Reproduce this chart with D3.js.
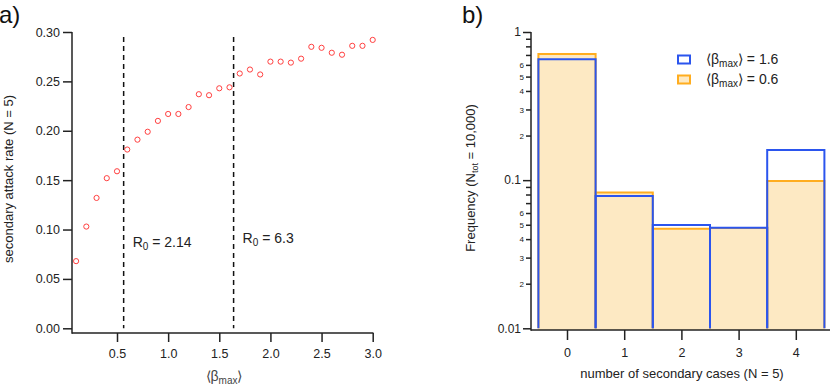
<!DOCTYPE html>
<html>
<head>
<meta charset="utf-8">
<script src="https://cdn.jsdelivr.net/npm/d3@7"></script>
<style>
  body { margin: 0; background: #fff; }
  svg { font-family: "Liberation Sans", Arial, sans-serif; }
  .axis path { display: none; }
  .axis line { stroke: #222; stroke-width: 1.5; }
  .axis text { fill: #222; }
</style>
</head>
<body>
<div id="chart"></div>
<script>
// panel a: secondary attack rate vs <beta_max>
const betaMax = [0.1, 0.2, 0.3, 0.4, 0.5, 0.6, 0.7, 0.8, 0.9, 1.0,
                 1.1, 1.2, 1.3, 1.4, 1.5, 1.6, 1.7, 1.8, 1.9, 2.0,
                 2.1, 2.2, 2.3, 2.4, 2.5, 2.6, 2.7, 2.8, 2.9, 3.0]
const attackRate = [0.068, 0.103, 0.132, 0.152, 0.159, 0.181, 0.191, 0.199, 0.210, 0.217,
                    0.217, 0.224, 0.237, 0.236, 0.243, 0.244, 0.258, 0.262, 0.257, 0.270,
                    0.270, 0.269, 0.273, 0.285, 0.284, 0.279, 0.277, 0.286, 0.286, 0.292]
const r0Lines = [0.565, 1.64]
const r0Labels = ["2.14", "6.3"]
const aXTicks = [0.5, 1.0, 1.5, 2.0, 2.5, 3.0]
const aYTicks = [0.00, 0.05, 0.10, 0.15, 0.20, 0.25, 0.30]

// panel b: distribution of secondary cases
const cases = [0, 1, 2, 3, 4]
const freqHigh = [0.654, 0.0783, 0.0499, 0.0477, 0.1595]  // <beta_max> = 1.6
const freqLow = [0.710, 0.0826, 0.0469, 0.0475, 0.0985]   // <beta_max> = 0.6
const bMajorTicks = [0.01, 0.1, 1]
const bMinorTicks = [0.02, 0.03, 0.04, 0.05, 0.06, 0.07, 0.08, 0.09,
                     0.2, 0.3, 0.4, 0.5, 0.6, 0.7, 0.8, 0.9]
const bMinorLabeled = [2, 3, 4, 5, 6]

const width = 830, height = 386
const svg = d3.select("#chart").append("svg")
  .attr("width", width).attr("height", height)

const axisColor = "#222"

// ---------- panel a ----------
const xA = d3.scaleLinear().domain([0.06, 3.0]).range([72, 372.7])
const yA = d3.scaleLinear().domain([0, 0.30]).range([328.3, 32])
const aAxisY = 333

svg.append("g").attr("class", "axis")
  .attr("transform", `translate(0,${aAxisY})`)
  .call(d3.axisBottom(xA).tickValues(aXTicks).tickFormat(d3.format(".1f")).tickSize(9).tickPadding(7))
  .selectAll("text").style("font-size", "12.5px")

svg.append("g").attr("class", "axis")
  .attr("transform", `translate(72,0)`)
  .call(d3.axisLeft(yA).tickValues(aYTicks).tickFormat(d3.format(".2f")).tickSize(9).tickPadding(3))
  .selectAll("text").style("font-size", "12.5px")

svg.append("line").attr("x1", 72).attr("x2", 72).attr("y1", yA(0.30)).attr("y2", aAxisY + 0.75)
  .attr("stroke", axisColor).attr("stroke-width", 1.5)
svg.append("line").attr("x1", 72).attr("x2", xA(3.0) + 0.75).attr("y1", aAxisY).attr("y2", aAxisY)
  .attr("stroke", axisColor).attr("stroke-width", 1.5)

svg.selectAll(".r0line").data(r0Lines).enter().append("line")
  .attr("x1", d => xA(d)).attr("x2", d => xA(d))
  .attr("y1", 37).attr("y2", yA(0))
  .attr("stroke", "#111").attr("stroke-width", 1.5)
  .attr("stroke-dasharray", "5,4")

const r0Text = svg.selectAll(".r0text").data(r0Lines).enter().append("text")
  .attr("x", d => xA(d) + 9)
  .attr("y", (d, i) => i === 0 ? 246.5 : 242.5)
  .style("font-size", "14px").attr("fill", "#222")
r0Text.append("tspan").text("R")
r0Text.append("tspan").attr("dy", 3).style("font-size", "10px").text("0")
r0Text.append("tspan").attr("dy", -3).text((d, i) => " = " + r0Labels[i])

svg.selectAll(".pt").data(betaMax).enter().append("circle")
  .attr("cx", d => xA(d))
  .attr("cy", (d, i) => yA(attackRate[i]))
  .attr("r", 2.6)
  .attr("fill", "none").attr("stroke", "#ff4040").attr("stroke-width", 1)

svg.append("text")
  .attr("transform", "translate(13,179) rotate(-90)")
  .attr("text-anchor", "middle").style("font-size", "13px").attr("fill", "#222")
  .text("secondary attack rate (N = 5)")

const xLabA = svg.append("text").attr("x", 224).attr("y", 381)
  .attr("text-anchor", "middle").style("font-size", "14px").attr("fill", "#444")
xLabA.append("tspan").text("\u27E8\u03B2")
xLabA.append("tspan").attr("dy", 3).style("font-size", "10px").text("max")
xLabA.append("tspan").attr("dy", -3).text("\u27E9")

svg.append("text").attr("x", -1).attr("y", 23).style("font-size", "24px").attr("fill", "#111").text("a)")

// ---------- panel b ----------
const xB = d3.scaleLinear().domain([-0.5, 4.5]).range([538.4, 824.4])
const yB = d3.scaleLog().domain([0.01, 1]).range([328.3, 32])
const bAxisX = 531, bAxisY = 330

// open-bottom bar outline: left side, top, right side
const barPath = (i, v) => {
  const p = d3.path()
  p.moveTo(xB(i - 0.5), yB(0.01))
  p.lineTo(xB(i - 0.5), yB(v))
  p.lineTo(xB(i + 0.5), yB(v))
  p.lineTo(xB(i + 0.5), yB(0.01))
  return p.toString()
}

svg.selectAll(".barLowFill").data(cases).enter().append("rect")
  .attr("x", d => xB(d - 0.5)).attr("width", xB(1) - xB(0))
  .attr("y", (d, i) => yB(freqLow[i]))
  .attr("height", (d, i) => bAxisY - yB(freqLow[i]))
  .attr("fill", "#fde9c3")

svg.selectAll(".barLow").data(cases).enter().append("path")
  .attr("d", (d, i) => barPath(d, freqLow[i]))
  .attr("fill", "none").attr("stroke", "#ffad1f").attr("stroke-width", 2)

svg.selectAll(".barHigh").data(cases).enter().append("path")
  .attr("d", (d, i) => barPath(d, freqHigh[i]))
  .attr("fill", "none").attr("stroke", "#2b55ee").attr("stroke-width", 2)

svg.append("g").attr("class", "axis")
  .attr("transform", `translate(0,${bAxisY})`)
  .call(d3.axisBottom(xB).tickValues(cases).tickFormat(d3.format("d")).tickSize(10).tickPadding(8))
  .selectAll("text").style("font-size", "12.5px")

svg.append("g").attr("class", "axis")
  .attr("transform", `translate(${bAxisX},0)`)
  .call(d3.axisLeft(yB).tickValues(bMajorTicks).tickFormat(d => d === 1 ? "1" : d3.format(".2~f")(d)).tickSize(8).tickPadding(2))
  .selectAll("text").style("font-size", "12px")

svg.append("g").attr("class", "axis")
  .attr("transform", `translate(${bAxisX},0)`)
  .call(d3.axisLeft(yB).tickValues(bMinorTicks).tickSize(5).tickPadding(2)
    .tickFormat(d => {
      const m = Math.round(d / Math.pow(10, Math.floor(Math.log10(d) + 1e-9)))
      return bMinorLabeled.includes(m) ? String(m) : ""
    }))
  .selectAll("text").style("font-size", "8px")

svg.append("line").attr("x1", bAxisX).attr("x2", bAxisX).attr("y1", yB(1)).attr("y2", bAxisY + 0.75)
  .attr("stroke", axisColor).attr("stroke-width", 1.5)
svg.append("line").attr("x1", bAxisX).attr("x2", width).attr("y1", bAxisY).attr("y2", bAxisY)
  .attr("stroke", axisColor).attr("stroke-width", 1.5)

// legend
const legendItems = [
  { label: "1.6", fill: "#fff", stroke: "#2b55ee" },
  { label: "0.6", fill: "#fde9c3", stroke: "#ffad1f" }
]
const legend = svg.selectAll(".leg").data(legendItems).enter().append("g")
  .attr("transform", (d, i) => `translate(678,${55.5 + i * 20})`)
legend.append("rect").attr("width", 12).attr("height", 8)
  .attr("fill", d => d.fill).attr("stroke", d => d.stroke).attr("stroke-width", 2)
const legText = legend.append("text").attr("x", 28).attr("y", 8.5)
  .style("font-size", "14px").attr("fill", "#222")
legText.append("tspan").text("\u27E8\u03B2")
legText.append("tspan").attr("dy", 3).style("font-size", "10px").text("max")
legText.append("tspan").attr("dy", -3).text(d => "\u27E9 = " + d.label)

const yLabB = svg.append("text")
  .attr("transform", "translate(475,178) rotate(-90)")
  .attr("text-anchor", "middle").style("font-size", "13px").attr("fill", "#222")
yLabB.append("tspan").text("Frequency (N")
yLabB.append("tspan").attr("dy", 3).style("font-size", "9px").text("tot")
yLabB.append("tspan").attr("dy", -3).text(" = 10,000)")

svg.append("text").attr("x", 682).attr("y", 378)
  .attr("text-anchor", "middle").style("font-size", "13px").attr("fill", "#222")
  .text("number of secondary cases (N = 5)")

svg.append("text").attr("x", 462).attr("y", 23).style("font-size", "24px").attr("fill", "#111").text("b)")
</script>
</body>
</html>
